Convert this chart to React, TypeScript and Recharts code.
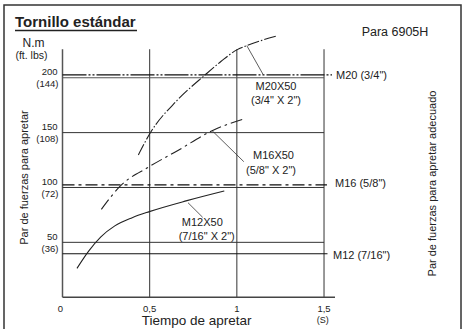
import React from "react";
import { LineChart, Line, XAxis, YAxis, ReferenceLine } from "recharts";

// ---- data ----
const xTicks = [0, 0.5, 1, 1.5];
const xTickLabels = ["0", "0,5", "1", "1,5"];
const yTicks = [50, 100, 150, 200];
const yTicksFtLbs = [36, 72, 108, 144];

const m20x50 = [
  { x: 0.435, y: 129.6 },
  { x: 0.502, y: 149.4 },
  { x: 0.655, y: 179 },
  { x: 0.818, y: 202.6 },
  { x: 0.91, y: 215 },
  { x: 1.0, y: 225.4 },
  { x: 1.057, y: 229.3 },
  { x: 1.229, y: 238.1 },
];
const m16x50 = [
  { x: 0.223, y: 80.1 },
  { x: 0.332, y: 101.4 },
  { x: 0.498, y: 119 },
  { x: 0.667, y: 134.2 },
  { x: 0.858, y: 151.8 },
  { x: 1.04, y: 162.4 },
];
const m12x50 = [
  { x: 0.083, y: 26.3 },
  { x: 0.15, y: 42 },
  { x: 0.22, y: 55 },
  { x: 0.3, y: 65 },
  { x: 0.4, y: 72.5 },
  { x: 0.498, y: 78 },
  { x: 0.714, y: 88 },
  { x: 0.928, y: 96.8 },
];

// recommended torque per bolt size (N.m) and line extents
const boltNames = ["M20 (3/4\")", "M16 (5/8\")", "M12 (7/16\")"];
const boltTorque = [202.6, 102.3, 39.6];
const boltLineEnd = [1.546, 1.517, 1.52];

// leader lines [from, to]
const leaders = [
  [{ x: 1.057, y: 229.3 }, { x: 1.152, y: 202.6 }],
  [{ x: 0.858, y: 151.8 }, { x: 1.04, y: 123.5 }],
  [{ x: 0.72, y: 86.1 }, { x: 0.804, y: 72.8 }],
];

const X_DOMAIN = [0, 1.563];
const Y_DOMAIN = [0, 250];
const FRAME_TOP = 226;

const FONT = "'Liberation Sans', Arial, Helvetica, sans-serif";
const INK = "#222";

const XTick = (props: any) => {
  const { x, y, payload } = props;
  const i = xTicks.indexOf(payload.value);
  return (
    <text x={x - (i === 0 ? 2 : 0)} y={y + 11} textAnchor="middle" dominantBaseline="central" fontSize={9.5} fill={INK} fontFamily={FONT}>
      {xTickLabels[i]}
    </text>
  );
};

const YTick = (props: any) => {
  const { x, y, payload } = props;
  const i = yTicks.indexOf(payload.value);
  return (
    <g>
      <text x={x - 5} y={y - 6} textAnchor="end" dominantBaseline="central" fontSize={9.5} fill={INK} fontFamily={FONT}>
        {payload.value}
      </text>
      <text x={x - 4} y={y + 6} textAnchor="end" dominantBaseline="central" fontSize={9.5} fill={INK} fontFamily={FONT}>
        ({yTicksFtLbs[i]})
      </text>
    </g>
  );
};

export default function App() {
  const W = 464;
  const H = 329;
  return (
    <div style={{ position: "fixed", left: 0, top: 0, width: W, height: H, background: "#fff", fontFamily: FONT }}>
      <LineChart
        width={W}
        height={H}
        margin={{ top: 22.9, right: 129, bottom: 11.8, left: 32.5 }}
      >
        <XAxis
          type="number"
          dataKey="x"
          domain={X_DOMAIN}
          ticks={xTicks}
          interval={0}
          height={20}
          tickSize={0}
          tickMargin={0}
          tickLine={false}
          axisLine={{ stroke: "#444", strokeWidth: 1.4 }}
          tick={<XTick />}
          allowDataOverflow
        />
        <YAxis
          type="number"
          domain={Y_DOMAIN}
          ticks={yTicks}
          interval={0}
          width={30}
          tickSize={0}
          tickMargin={0}
          tickLine={false}
          axisLine={false}
          tick={<YTick />}
          allowDataOverflow
        />
        {/* vertical frame lines */}
        {xTicks.map((t) => (
          <ReferenceLine
            key={"v" + t}
            segment={[{ x: t, y: 0 }, { x: t, y: FRAME_TOP }]}
            stroke={t === 0 ? "#555" : "#333"}
            strokeWidth={t === 0 ? 1.5 : 1}
          />
        ))}
        {/* horizontal grid lines */}
        {yTicks.map((t) => (
          <ReferenceLine
            key={"h" + t}
            segment={[{ x: 0, y: t }, { x: 1.5, y: t }]}
            stroke={t === 200 ? "#555" : "#333"}
            strokeWidth={1}
          />
        ))}
        {/* bolt recommended torque lines */}
        <ReferenceLine segment={[{ x: 0, y: boltTorque[0] }, { x: boltLineEnd[0], y: boltTorque[0] }]} stroke="#111" strokeWidth={1.3} strokeDasharray="24 2 2 2 2 2" />
        <ReferenceLine segment={[{ x: 0, y: boltTorque[1] }, { x: boltLineEnd[1], y: boltTorque[1] }]} stroke="#111" strokeWidth={1.2} strokeDasharray="12 4 3 4" />
        <ReferenceLine segment={[{ x: 0, y: boltTorque[2] }, { x: boltLineEnd[2], y: boltTorque[2] }]} stroke="#111" strokeWidth={1} />
        {/* leader lines */}
        {leaders.map((s, i) => (
          <ReferenceLine key={"l" + i} segment={s} stroke="#333" strokeWidth={0.8} />
        ))}
        <Line data={m20x50} dataKey="y" type="monotone" stroke={INK} strokeWidth={1.1} strokeDasharray="12 2 1.5 2" dot={false} isAnimationActive={false} />
        <Line data={m16x50} dataKey="y" type="monotone" stroke={INK} strokeWidth={1.1} strokeDasharray="12 4 2.5 4" dot={false} isAnimationActive={false} />
        <Line data={m12x50} dataKey="y" type="monotone" stroke={INK} strokeWidth={1.1} dot={false} isAnimationActive={false} />
      </LineChart>
      <svg width={W} height={H} style={{ position: "absolute", left: 0, top: 0, pointerEvents: "none" }} fontFamily={FONT}>
        <rect x={4} y={5} width={457} height={340} fill="none" stroke="#333" strokeWidth={1.5} />
        <text x={15} y={27} fontSize={15} fontWeight="bold" fill={INK}>Tornillo estándar</text>
        <line x1={15} x2={137} y1={30.5} y2={30.5} stroke={INK} strokeWidth={1.3} />
        <text x={33.5} y={43} fontSize={12} fill={INK} textAnchor="middle" dominantBaseline="central">N.m</text>
        <text x={31.5} y={55} fontSize={10.5} fill={INK} textAnchor="middle" dominantBaseline="central">(ft. lbs)</text>
        <text x={395} y={31.5} fontSize={12.5} fill={INK} textAnchor="middle" dominantBaseline="central">Para 6905H</text>
        <text x={24} y={177.5} fontSize={11} fill={INK} textAnchor="middle" dominantBaseline="central" transform="rotate(-90 24 177.5)">Par de fuerzas para apretar</text>
        <text x={431.5} y={183.5} fontSize={11} fill={INK} textAnchor="middle" dominantBaseline="central" transform="rotate(-90 431.5 183.5)">Par de fuerzas para apretar adecuado</text>
        <text x={336} y={75} fontSize={11} fill={INK} dominantBaseline="central">{boltNames[0]}</text>
        <text x={335} y={182.5} fontSize={11} fill={INK} dominantBaseline="central">{boltNames[1]}</text>
        <text x={333} y={255} fontSize={11} fill={INK} dominantBaseline="central">{boltNames[2]}</text>
        <text x={276} y={86} fontSize={11} fill={INK} textAnchor="middle" dominantBaseline="central">M20X50</text>
        <text x={276} y={99.5} fontSize={11} fill={INK} textAnchor="middle" dominantBaseline="central">(3/4" X 2")</text>
        <text x={273.5} y={155} fontSize={11} fill={INK} textAnchor="middle" dominantBaseline="central">M16X50</text>
        <text x={271} y={170} fontSize={11} fill={INK} textAnchor="middle" dominantBaseline="central">(5/8" X 2")</text>
        <text x={202.3} y={221.7} fontSize={11} fill={INK} textAnchor="middle" dominantBaseline="central">M12X50</text>
        <text x={206.7} y={236} fontSize={11} fill={INK} textAnchor="middle" dominantBaseline="central">(7/16" X 2")</text>
        <text x={196.7} y={320.5} fontSize={13.5} fill={INK} textAnchor="middle" dominantBaseline="central">Tiempo de apretar</text>
        <text x={322.7} y={320} fontSize={9} fill={INK} textAnchor="middle" dominantBaseline="central">(S)</text>
      </svg>
    </div>
  );
}
